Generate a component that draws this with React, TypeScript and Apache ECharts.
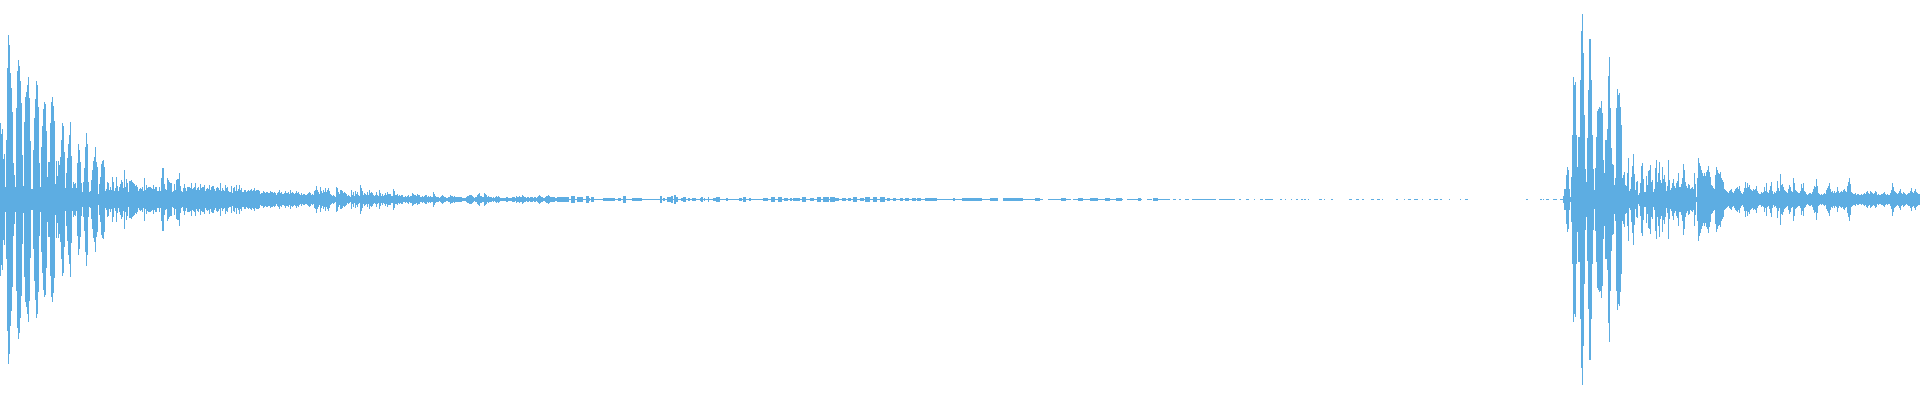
import React, { useEffect, useRef } from "react";
import * as echarts from "echarts";

// Waveform peak values, one per sample.
const SAMPLE_COUNT = 1920;

const attackPeaks = [
  77, 66, 71, 41, 46, 13, 60, 132, 165, 155, 127, 112, 88, 37, 25, 13, 92, 129, 140, 134,
  119, 97, 45, 14, 78, 103, 108, 115, 123, 102, 59, 11, 11, 50, 82, 101, 119, 115, 93, 37,
  13, 53, 74, 91, 98, 96, 69, 23, 38, 38, 77, 98, 103, 94, 79, 16, 39, 24, 39, 35,
  43, 60, 77, 74, 48, 12, 27, 42, 56, 65, 78, 44, 12, 18, 16, 17, 12, 37, 56, 50,
  38, 17, 8, 18, 32, 53, 67, 56, 18, 8, 9, 20, 30, 39, 43, 53, 38, 33, 6, 16,
  23, 36, 39, 40, 33, 9, 11,
];

const decayPeaks = [
  18, 17, 10, 13, 10, 23, 18, 9, 12, 23, 14, 9, 13, 16, 20, 18, 12, 30, 13, 21,
  17, 8, 19, 19, 20, 18, 17, 16, 14, 15, 13, 9, 11, 12, 11, 13, 9, 22, 10, 15,
  12, 13, 13, 13, 12, 11, 15, 11, 13, 13, 9, 9, 13, 9, 22, 32, 32, 16, 11, 10,
  22, 20, 18, 17, 17, 8, 9, 16, 10, 20, 21, 21, 27, 14, 9, 8, 12, 16, 12, 9,
  13, 13, 13, 12, 17, 11, 12, 13, 17, 10, 12, 13, 10, 16, 12, 13, 13, 15, 9, 11,
  12, 11, 15, 10, 13, 14, 14, 11, 9, 12, 13, 12, 10, 17, 9, 12, 10, 9, 15, 12,
  13, 9, 8, 8, 14, 7, 12, 13, 9, 15, 9, 11, 15, 10, 12, 8, 8, 10, 10, 8,
  9, 10, 9, 10, 11, 9, 10, 12, 9, 10, 10, 10, 9, 6, 7, 7, 9, 8, 7, 8,
  8, 7, 7, 9, 8, 8, 7, 8, 7, 5, 7, 8, 10, 7, 8, 6, 6, 7, 9, 7,
  7, 8, 6, 10, 7, 8, 7, 6, 7, 9, 7, 8, 6, 5, 7, 5, 6, 6, 5, 5,
  6, 7, 8, 7, 5, 6, 5, 9, 10, 14, 10, 8, 6,
];

const tailPeaks = [
  13, 9, 7, 10, 8, 12, 8, 10, 12, 9, 6, 5, 4, 5, 4, 3, 13, 12, 8, 6,
  10, 10, 9, 7, 8, 7, 6, 4, 5, 4, 3, 10, 5, 8, 4, 9, 6, 8, 5, 4,
  15, 12, 9, 5, 7, 6, 5, 8, 5, 10, 7, 8, 7, 5, 4, 5, 8, 5, 4, 10,
  7, 4, 6, 4, 5, 7, 5, 8, 6, 6, 6, 4, 4, 11, 9, 5, 5, 6, 4, 5,
  4, 5, 5, 3, 3, 4, 3, 4, 5, 3, 4, 4, 7, 6, 5, 5, 4, 6, 5, 5,
  3, 3, 4, 3, 4, 5, 5, 3, 4, 3, 4, 3, 3, 8, 6, 4, 3, 3, 3, 2,
  3, 4, 5, 4, 3, 3, 2, 2, 3, 3, 5, 4, 4, 3, 4, 3, 3, 3, 3, 3,
  3, 3, 2, 2, 2, 2, 3, 4, 4, 5, 5, 5, 4, 3, 2, 3, 3, 5, 6, 7,
  4, 4, 3, 3, 7, 6, 5, 3, 4, 3, 3, 3, 2, 3, 2, 3, 4, 3, 4, 3,
  2, 2, 2, 2, 2, 2, 3, 3, 2, 2, 2, 2, 3, 3, 3, 2, 4, 3, 3, 4,
  3, 3, 5, 4, 3, 3, 2, 3, 3, 2, 3, 3, 3, 2, 3, 3, 2, 3, 4, 5,
  4, 3, 3, 2, 2, 3, 4, 4, 5, 4, 3, 3, 3, 3, 3, 2, 2, 3, 3, 3,
];

// [first sample, last sample, peak] for the nearly silent stretch.
const quietRuns = [
  [560, 1268, 1],
  [560, 569, 3], [571, 575, 4], [577, 583, 3], [586, 589, 4], [589, 590, 2], [591, 594, 3],
  [603, 615, 2], [618, 621, 2], [623, 626, 4], [632, 642, 2], [660, 662, 4], [663, 665, 2],
  [667, 671, 3], [671, 673, 4], [674, 676, 5], [676, 678, 3], [681, 683, 2], [683, 686, 3],
  [688, 690, 2], [692, 696, 2], [700, 702, 2], [701, 703, 3], [704, 705, 2], [708, 709, 3],
  [713, 716, 2], [716, 720, 3], [726, 728, 2], [739, 742, 2], [743, 746, 3], [749, 751, 2],
  [763, 768, 2], [771, 775, 3], [778, 782, 3], [784, 788, 2], [790, 792, 2], [793, 800, 2],
  [802, 806, 3], [810, 814, 2], [817, 821, 3], [823, 829, 3], [830, 835, 3], [835, 839, 2],
  [842, 846, 2], [848, 851, 2], [853, 857, 3],
  [860, 864, 2], [865, 870, 3], [873, 877, 3],
  [880, 885, 3], [887, 890, 2], [893, 896, 2], [900, 903, 2], [905, 909, 2], [912, 916, 2],
  [917, 921, 2], [925, 937, 2], [953, 955, 2], [962, 982, 2], [990, 998, 2], [998, 1003, 0],
  [1003, 1023, 2], [1035, 1040, 2], [1043, 1048, 0], [1061, 1066, 2], [1071, 1073, 0],
  [1078, 1083, 2], [1090, 1098, 2], [1105, 1110, 2], [1116, 1122, 2], [1123, 1127, 0],
  [1138, 1141, 2], [1142, 1147, 0], [1152, 1154, 0], [1153, 1158, 2],
  [1170, 1173, 0], [1176, 1179, 0], [1181, 1185, 0], [1189, 1192, 0], [1216, 1219, 0],
  [1235, 1239, 0], [1241, 1246, 0], [1249, 1254, 0], [1255, 1260, 0], [1263, 1265, 0],
  [1268, 1273, 1], [1273, 1280, 0], [1280, 1282, 1], [1285, 1286, 1], [1284, 1285, 0],
  [1286, 1291, 0], [1291, 1292, 1], [1296, 1298, 1], [1301, 1303, 1], [1304, 1306, 1],
  [1292, 1296, 0], [1298, 1301, 0], [1303, 1304, 0], [1306, 1308, 0], [1308, 1309, 1],
  [1309, 1319, 0], [1319, 1322, 1], [1324, 1325, 1], [1325, 1331, 0], [1331, 1333, 1],
  [1333, 1349, 0], [1349, 1352, 1], [1356, 1359, 1], [1362, 1364, 1], [1371, 1374, 1],
  [1377, 1380, 1], [1382, 1383, 1], [1396, 1398, 1], [1404, 1405, 1], [1408, 1411, 1],
  [1414, 1418, 1], [1422, 1423, 1], [1429, 1431, 1], [1434, 1438, 1], [1440, 1442, 1],
  [1449, 1450, 1], [1460, 1461, 1], [1465, 1468, 1], [1526, 1528, 1], [1540, 1542, 1],
  [1543, 1544, 1], [1546, 1549, 1], [1553, 1557, 1], [1560, 1563, 1],
];

const burstPeaks = [
  4, 11, 11, 25, 33, 30, 11, 3, 23, 65, 123, 115, 118, 65, 33, 63, 63, 120, 169, 186,
  147, 85, 31, 18, 62, 110, 161, 161, 120, 65, 31, 10, 32, 63, 89, 91, 93, 92, 99, 87,
  40, 27, 60, 60, 71, 124, 143, 92, 52, 36, 35, 15, 22, 92, 111, 105, 107, 93, 75, 22,
  25, 28, 15, 14, 27, 42, 9, 11, 23, 34, 46, 26, 10, 18, 19, 5, 7, 17, 34, 37,
  21, 8, 8, 24, 15, 29, 30, 35, 18, 20, 8, 11, 32, 40, 18, 27, 38,
];

const burstTailPeaks = [
  20, 17, 33, 21, 25, 18, 9, 14, 40, 20, 10, 12, 17, 21, 14, 12, 17, 19, 27, 13,
  13, 16, 22, 36, 30, 18, 14, 12, 16, 15, 11, 12, 13, 11, 27, 16, 3, 22, 42, 37,
  34, 30, 27, 24, 27, 24, 28, 30, 34, 28, 23, 15, 14, 12, 11, 25, 33, 30, 27, 26,
  28, 22, 20, 18,
  11, 10, 9, 8, 7, 9, 10, 11, 8, 7, 9, 11, 12, 13, 11, 14, 9, 7, 6, 8,
  12, 18, 12, 17, 13, 15, 11, 10, 9, 11, 10, 11, 14, 9, 7, 6, 6, 8, 7, 8,
  13, 9, 17, 8, 7, 10, 14, 18, 9, 6, 8, 7, 9, 19, 12, 9, 26, 15, 16, 13,
  10, 9, 8, 7, 11, 15, 13, 9, 8, 22, 17, 10, 9, 8, 7, 7, 9, 16, 12, 17,
  9, 8, 6, 5, 6, 7, 7, 6, 8, 11, 14, 13, 21, 14, 7, 6, 5, 6, 5, 6,
  7, 6, 10, 12, 14, 17, 11, 8, 9, 7, 9, 7, 8, 13, 9, 7, 8, 9, 8, 10,
  11, 9, 8, 14, 18, 22, 16, 8, 7, 6, 6, 7, 5, 6, 6, 5, 5, 6, 5, 6,
  7, 6, 8, 9, 7, 6, 9, 8, 7, 6, 7, 9, 8, 5, 6, 5, 5, 6, 6, 7,
  8, 6, 5, 6, 5, 5, 7, 10, 17, 13, 9, 8, 7, 6, 7, 9, 11, 7, 6, 8,
  7, 6, 5, 6, 7, 7, 9, 12, 8, 7, 9, 11, 8, 7, 6, 6,
];

function buildPeaks(): number[] {
  const peaks: number[] = new Array(SAMPLE_COUNT).fill(0);
  const place = (start: number, values: number[]) =>
    values.forEach((v, i) => {
      if (start + i < SAMPLE_COUNT) peaks[start + i] = v;
    });
  place(0, attackPeaks);
  place(107, decayPeaks);
  place(320, tailPeaks);
  quietRuns.forEach(([from, to, value]) => {
    for (let i = from; i < to; i++) peaks[i] = value;
  });
  place(1563, burstPeaks);
  place(1660, burstTailPeaks);
  return peaks;
}

const COLOR = "#5dade2";

export default function App() {
  const ref = useRef<HTMLDivElement>(null);
  useEffect(() => {
    document.body.style.margin = "0";
    const chart = echarts.init(ref.current!, undefined, { renderer: "svg" });
    const peaks = buildPeaks();
    chart.setOption({
      animation: false,
      backgroundColor: "#ffffff",
      grid: { left: 0, right: 0, top: 0, bottom: 0 },
      xAxis: {
        type: "category",
        show: false,
        data: peaks.map((_, i) => i),
      },
      yAxis: { type: "value", show: false, min: -200, max: 200 },
      series: [
        {
          name: "upper",
          type: "bar",
          stack: "wave",
          barWidth: 1,
          itemStyle: { color: COLOR },
          data: peaks,
        },
        {
          name: "lower",
          type: "bar",
          stack: "wave",
          barWidth: 1,
          itemStyle: { color: COLOR },
          data: peaks.map((v) => (v > 1 ? -(v - 1) : 0)),
        },
      ],
    });
    return () => chart.dispose();
  }, []);
  return <div ref={ref} style={{ width: 1920, height: 400 }} />;
}
